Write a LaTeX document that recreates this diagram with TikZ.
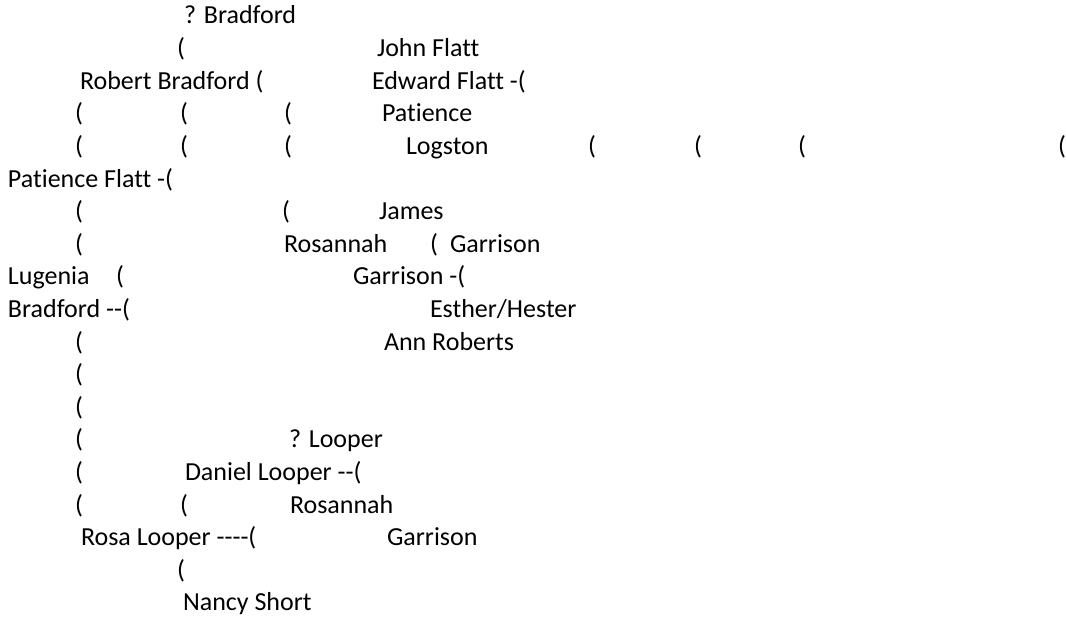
\documentclass[tikz,border=0pt]{standalone}
\usepackage{fontspec}
\setmainfont[Ligatures={NoCommon}]{Carlito}
\begin{document}
\begin{tikzpicture}[x=1pt,y=-1pt,
  lbl/.style={anchor=base west,inner sep=0pt,outer sep=0pt,text=black,font=\fontsize{26}{30}\selectfont}]
\useasboundingbox[fill=white] (0,0) rectangle (1066,618);
% row 1
\node[lbl] (r1a) at (184,24) {? Bradford};
% row 2
\node[lbl] (r2a) at (177,56.6) {(};
\node[lbl] (r2b) at (377,56.6) {John Flatt};
% row 3
\node[lbl] (r3a) at (80,89.2) {Robert Bradford (};
\node[lbl] (r3b) at (372,89.2) {Edward Flatt -(};
% row 4
\node[lbl] (r4a) at (75,121.8) {(};
\node[lbl] (r4b) at (180,121.8) {(};
\node[lbl] (r4c) at (284,121.8) {(};
\node[lbl] (r4d) at (382,121.8) {Patience};
% row 5
\node[lbl] (r5a) at (75,154.4) {(};
\node[lbl] (r5b) at (180,154.4) {(};
\node[lbl] (r5c) at (284,154.4) {(};
\node[lbl] (r5d) at (406,154.4) {Logston};
\node[lbl] (r5e) at (588,154.4) {(};
\node[lbl] (r5f) at (694,154.4) {(};
\node[lbl] (r5g) at (798,154.4) {(};
\node[lbl] (r5h) at (1058,154.4) {(};
% row 6
\node[lbl] (r6a) at (8,187) {Patience Flatt -(};
% row 7
\node[lbl] (r7a) at (75,219.6) {(};
\node[lbl] (r7b) at (282,219.6) {(};
\node[lbl] (r7c) at (379,219.6) {James};
% row 8
\node[lbl] (r8a) at (75,252.2) {(};
\node[lbl] (r8b) at (284,252.2) {Rosannah};
\node[lbl] (r8c) at (430,252.2) {(};
\node[lbl] (r8d) at (450,252.2) {Garrison};
% row 9
\node[lbl] (r9a) at (8,284.8) {Lugenia};
\node[lbl] (r9b) at (116,284.8) {(};
\node[lbl] (r9c) at (353,284.8) {Garrison -(};
% row 10
\node[lbl] (r10a) at (8,317.4) {Bradford -{}-(};
\node[lbl] (r10b) at (430,317.4) {Esther/Hester};
% row 11
\node[lbl] (r11a) at (75,350) {(};
\node[lbl] (r11b) at (384,350) {Ann Roberts};
% rows 12, 13
\node[lbl] (r12a) at (75,382.6) {(};
\node[lbl] (r13a) at (75,415.2) {(};
% row 14
\node[lbl] (r14a) at (75,447.8) {(};
\node[lbl] (r14b) at (289,447.8) {? Looper};
% row 15
\node[lbl] (r15a) at (75,480.4) {(};
\node[lbl] (r15b) at (185,480.4) {Daniel Looper -{}-(};
% row 16
\node[lbl] (r16a) at (75,513) {(};
\node[lbl] (r16b) at (180,513) {(};
\node[lbl] (r16c) at (290,513) {Rosannah};
% row 17
\node[lbl] (r17a) at (81,545.6) {Rosa Looper -{}-{}-{}-(};
\node[lbl] (r17b) at (387,545.6) {Garrison};
% row 18
\node[lbl] (r18a) at (177,578.2) {(};
% row 19
\node[lbl] (r19a) at (183,610.8) {Nancy Short};
\end{tikzpicture}
\end{document}
